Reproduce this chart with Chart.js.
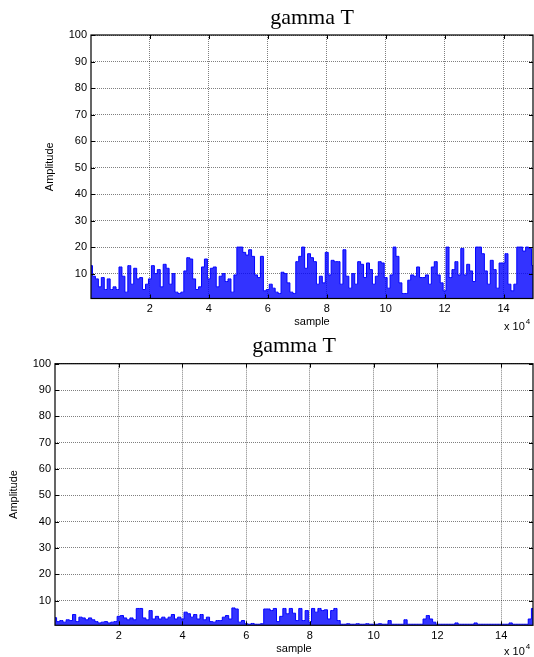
<!DOCTYPE html>
<html>
<head>
<meta charset="utf-8">
<script src="https://cdn.jsdelivr.net/npm/chart.js@4.4.0/dist/chart.umd.min.js"></script>
<style>
body { margin: 0; background: #fff; }
#wrap { position: relative; width: 534px; height: 657px; }
canvas { position: absolute; left: 0; }
</style>
</head>
<body>
<div id="wrap">
  <canvas id="c1" width="534" height="330" style="top:0"></canvas>
  <canvas id="c2" width="534" height="327" style="top:330px"></canvas>
</div>
<script>
// one value per 1000 samples
const samples = Array.from({ length: 151 }, (_, i) => i * 1000)

const gammaTop = [
  13, 9, 8, 5, 8.5, 4, 8, 4, 5, 4,
  12.5, 9, 3, 13, 6, 12, 8, 8.5, 4, 6,
  8, 13, 10, 11.5, 5, 13.5, 12, 6, 10, 3,
  2.5, 3, 11, 16, 15.5, 8, 4, 5, 12.5, 15.5,
  8, 12, 12.5, 5, 9, 10, 7, 8, 3, 9.5,
  20, 20, 18, 17, 19, 16.5, 9.5, 8.5, 16.5, 3.5,
  4, 6, 4.5, 3, 2.5, 10.5, 10, 6.5, 3, 2.5,
  14.5, 16.5, 20, 12, 17.5, 16, 14.5, 6, 9, 6.5,
  18, 9.5, 15, 14.5, 14.5, 6, 19, 9, 4.5, 10,
  6, 14.5, 13.5, 8.5, 14, 11.5, 6, 9, 14.5, 14,
  8.5, 4.5, 9.5, 20, 16.5, 6.5, 2.5, 2.5, 7.5, 9.5,
  9, 12.5, 8.5, 8.5, 9.5, 6, 12.5, 14.5, 9.5, 6.5,
  3.5, 20, 8.5, 11.5, 14.5, 9.5, 19.5, 9.5, 13.5, 11,
  7, 20, 20, 17.5, 11, 6, 15, 11.5, 4.5, 14,
  14, 17.5, 6, 3.5, 6, 20, 20, 18.5, 20, 19.5,
  13
]

const gammaBottom = [
  3.5, 2, 2.4, 1.8, 2.7, 2.4, 4.7, 2, 3.7, 3.4,
  2.7, 3.4, 2.7, 2, 1.5, 1.8, 2, 1.5, 1.8, 2,
  4, 4.3, 3.4, 2.7, 3.4, 2.7, 7, 7, 3.4, 2.7,
  6.2, 3, 4, 3, 3.7, 3, 3.7, 4.7, 3, 3.7,
  3, 5.6, 5, 3.7, 4.7, 3, 4.7, 2.7, 3.7, 2,
  1.8, 2.4, 2.4, 3.7, 4.3, 3, 7.2, 6.8, 1.8, 2.4,
  1.2, 1, 1.3, 1, 1, 1.2, 6.8, 6.8, 6.2, 7,
  2, 4, 7, 5, 7, 5.2, 2.4, 7, 2.4, 6.2,
  1.8, 7, 5.6, 7, 6.2, 6.5, 3, 6.2, 7, 2.4,
  1, 1, 1.2, 1, 1, 1.2, 1, 1, 1.2, 1,
  1, 1, 1.2, 1, 1, 2.4, 1, 1, 1, 1,
  2.7, 1, 1, 1, 1, 1, 3, 4.3, 3, 1.8,
  1, 1, 1, 1, 1, 1, 1.5, 1, 1, 1,
  1, 1, 1.5, 1, 1, 1, 1, 1, 1, 1,
  1, 1, 1, 1.5, 1, 1, 1, 1, 1, 3,
  7
]

const xTicks = [20000, 40000, 60000, 80000, 100000, 120000, 140000]
const yTicks = [10, 20, 30, 40, 50, 60, 70, 80, 90, 100]

const sans = '"Liberation Sans", Arial, sans-serif'

// MATLAB style box, inward ticks and the x10^4 note
const boxPlugin = {
  id: 'box',
  afterDraw(chart, args, opts) {
    const { ctx, chartArea: a, scales } = chart
    ctx.save()
    ctx.strokeStyle = '#000'
    ctx.lineWidth = 1.2
    ctx.strokeRect(a.left, a.top, a.right - a.left, a.bottom - a.top)
    ctx.lineWidth = 1
    ctx.beginPath()
    xTicks.forEach(v => {
      const x = Math.round(scales.x.getPixelForValue(v)) + 0.5
      ctx.moveTo(x, a.top); ctx.lineTo(x, a.top + 4)
      ctx.moveTo(x, a.bottom); ctx.lineTo(x, a.bottom - 4)
    })
    yTicks.forEach(v => {
      const y = Math.round(scales.y.getPixelForValue(v)) + 0.5
      ctx.moveTo(a.left, y); ctx.lineTo(a.left + 4, y)
      ctx.moveTo(a.right, y); ctx.lineTo(a.right - 4, y)
    })
    ctx.stroke()
    ctx.fillStyle = '#000'
    ctx.textBaseline = 'alphabetic'
    ctx.textAlign = 'left'
    ctx.font = '11px ' + sans
    ctx.fillText('x 10', opts.ex, opts.ey)
    const w = ctx.measureText('x 10').width
    ctx.font = '8px ' + sans
    ctx.fillText('4', opts.ex + w + 1, opts.ey - 6)
    ctx.restore()
  }
}

function makeChart(id, values, g) {
  return new Chart(document.getElementById(id), {
    type: 'line',
    data: {
      labels: samples,
      datasets: [{
        data: values.map((v, i) => ({ x: samples[i], y: v })),
        borderColor: '#0000ff',
        borderWidth: 1,
        backgroundColor: 'rgba(0,0,255,0.8)',
        fill: 'start',
        stepped: 'middle',
        pointRadius: 0
      }]
    },
    options: {
      responsive: false,
      animation: false,
      layout: { padding: { left: 0, right: 1, top: 0, bottom: 0 } },
      plugins: {
        legend: { display: false },
        tooltip: { enabled: false },
        title: {
          display: true,
          text: 'gamma T',
          fullSize: false,
          color: '#000',
          font: { family: '"Liberation Serif", "Times New Roman", serif', size: 22, weight: 'normal', lineHeight: 1.1 },
          padding: { top: g.tTop, bottom: g.tBottom }
        },
        box: { ex: 504, ey: g.ey }
      },
      scales: {
        x: {
          type: 'linear',
          min: 0,
          max: 150000,
          afterBuildTicks: s => { s.ticks = xTicks.map(v => ({ value: v })) },
          afterFit: s => { s.height = g.xh },
          ticks: {
            color: '#000',
            font: { family: sans, size: 11 },
            padding: g.tickPad,
            maxRotation: 0,
            callback: v => v / 10000
          },
          grid: { color: 'rgba(0,0,0,0.5)', drawTicks: false },
          border: { display: false, dash: [1, 1] },
          title: {
            display: true,
            text: 'sample',
            color: '#000',
            font: { family: sans, size: 11 },
            padding: { top: 0, bottom: g.xtPad }
          }
        },
        y: {
          min: 0.6,
          max: 100,
          afterBuildTicks: s => { s.ticks = yTicks.map(v => ({ value: v })) },
          afterFit: s => { s.width = g.left },
          ticks: {
            color: '#000',
            font: { family: sans, size: 11 },
            padding: 4
          },
          grid: { color: 'rgba(0,0,0,0.5)', drawTicks: false },
          border: { display: false, dash: [1, 1] },
          title: {
            display: true,
            text: 'Amplitude',
            color: '#000',
            font: { family: '"Liberation Sans Narrow", "Arial Narrow", ' + sans, size: 11 },
            padding: { top: g.ytPad, bottom: 0 }
          }
        }
      }
    },
    plugins: [boxPlugin]
  })
}

// title box: 22 * 1.1 = 24.2 tall, plus padding -> chart area top near 35 / 34
makeChart('c1', gammaTop, { left: 91, xh: 31.5, tTop: 6, tBottom: 4.8, tickPad: 4, xtPad: 1.4, ytPad: 43.4, ey: 330 })
makeChart('c2', gammaBottom, { left: 55, xh: 31.7, tTop: 4.5, tBottom: 5, tickPad: 4, xtPad: 1, ytPad: 7.4, ey: 325 })
</script>
</body>
</html>
